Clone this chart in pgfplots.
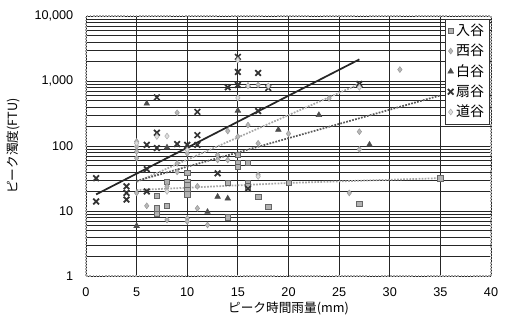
\documentclass[border=0pt]{standalone}
\usepackage{pgfplots}
\pgfplotsset{compat=1.18}
\usepackage{fontspec}
\setmainfont{Liberation Sans}
\newfontfamily\jp{Noto Sans CJK JP}
\begin{document}
\begin{tikzpicture}
\useasboundingbox (-64.5pt,-36pt) rectangle (317.25pt,207pt);
\begin{axis}[
  scale only axis, width=303.75pt, height=195pt,
  xmin=0, xmax=40, ymin=1, ymax=10000,
  ymode=log, log basis y=10,
  xtick={0,5,...,40},
  ytick={1,10,100,1000,10000},
  yticklabels={1,10,100,{1,000},{10,000}},
  minor ytick={2,3,4,5,6,7,8,9,20,30,40,50,60,70,80,90,200,300,400,500,600,700,800,900,2000,3000,4000,5000,6000,7000,8000,9000},
  grid=both,
  major grid style={black!85, line width=0.6pt},
  minor grid style={black!85, line width=0.5pt},
  major tick length=0pt, minor tick length=0pt,
  axis line style={gray!70, line width=1.3pt, densely dotted},
  /pgf/number format/assume math mode=true,
  ticklabel style={font=\fontsize{9.5}{11}\selectfont},
  xticklabel style={yshift=-5pt},
  yticklabel style={xshift=-6pt},
  xlabel={\jp ピーク時間雨量(mm)},
  ylabel={\jp ピーク濁度(FTU)},
  label style={font=\fontsize{9.5}{11}\selectfont},
  xlabel style={yshift=3pt},
  ylabel style={yshift=4pt},
  legend style={at={(0.997,0.99)}, anchor=north east, draw=black!80, fill=white,
    font=\jp\fontsize{10.5}{12}\selectfont, row sep=1pt, inner sep=2pt},
  legend cell align=left,
  clip=true,
]
% trend lines
\addplot[black!85, line width=1.3pt, forget plot] coordinates {(1,18) (27,2150)};
\addplot[gray!70, densely dotted, line width=1.3pt, forget plot] coordinates {(5,28) (27,900)};
\addplot[black!65, densely dotted, line width=1.3pt, forget plot] coordinates {(5,29) (35,600)};
\addplot[gray!70, densely dotted, line width=1.3pt, forget plot] coordinates {(5,21) (20,27) (35,32)};
% 入谷
\addplot[only marks, mark=square*, mark size=2pt, mark options={fill=gray!60, draw=black!60}] coordinates {
(7,17) (7,11) (7,9) (8,28) (8,12) (10,28) (10,25) (10,21) (10,18) (10,39) (14,8) (14,27)
(15,73) (15,54) (15,48) (16,55) (16,27) (16,24) (17,16.6) (18,11.6) (20,27) (27,13) (35,32)};
\addlegendentry{入谷}
% 西谷
\addplot[only marks, mark=diamond*, mark size=2.2pt, mark options={fill=gray!55, draw=gray!80}] coordinates {
(5,117) (5,98) (5,82) (5,65) (5,19) (6,12) (8,7.3) (8,24) (9,325) (9,54) (9,40) (10,7.7) (10,6.9)
(10,77) (11,24) (11,11) (12,6.1) (13,73) (13,61) (14,61) (14,170) (15,139) (16,210) (17,110)
(17,36) (20,155) (24,540) (26,19) (27,166) (27,89) (31,1500) (17,870)};
\addlegendentry{西谷}
% 白谷
\addplot[only marks, mark=triangle*, mark size=2.4pt, mark options={fill=black!70, draw=black!70}] coordinates {
(5,5.9) (6,450) (8,95) (13,16.6) (14,15.6) (12,9.7) (15,350) (16,840) (19,178) (23,300) (28,105)};
\addlegendentry{白谷}
% 扇谷
\addplot[only marks, mark=x, mark size=3pt, mark options={draw=black!80, line width=1.3pt}] coordinates {
(1,32) (1,14) (4,24) (4,19) (4,15) (6,104) (6,44) (6,20) (7,560) (7,160) (7,93) (9,107) (10,104)
(11,104) (11,335) (11,147) (13,38) (14,800) (15,2350) (15,1380) (15,870) (17,1330) (17,345)
(18,780) (16,22) (27,900)};
\addlegendentry{扇谷}
% 道谷
\addplot[only marks, mark=diamond*, mark size=2.2pt, mark options={fill=gray!25, draw=gray!65}] coordinates {
(15,2100) (15,550) (18,840) (8,142) (7,140) (10,87) (16,840) (27,800) (5,110) (8,20) (17,34)};
\addlegendentry{道谷}
\end{axis}
\end{tikzpicture}
\end{document}
